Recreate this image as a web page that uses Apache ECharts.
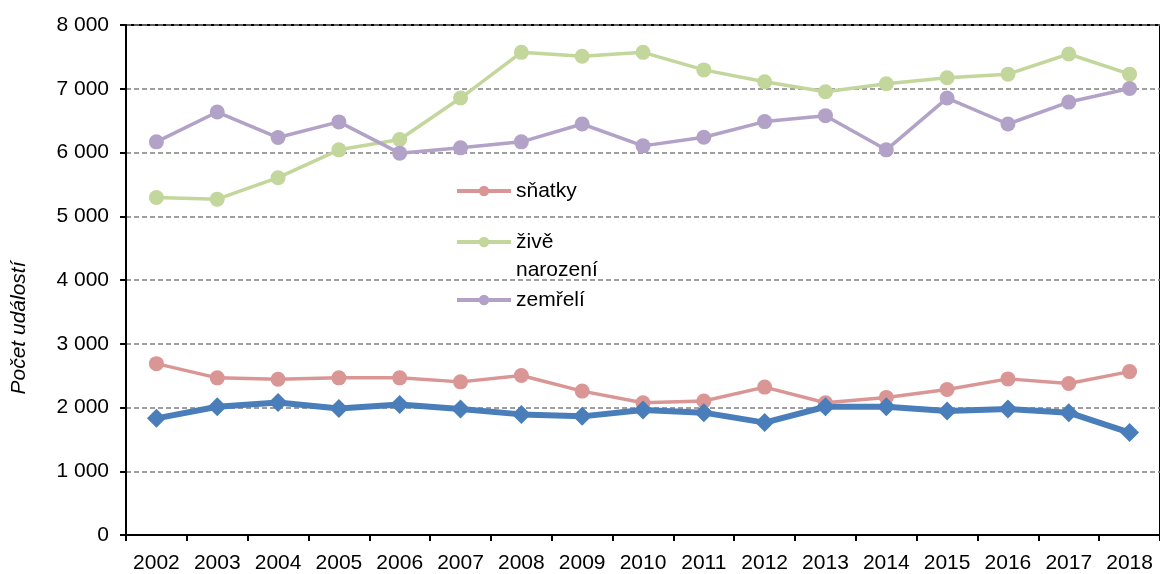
<!DOCTYPE html>
<html>
<head>
<meta charset="utf-8">
<script src="https://cdn.jsdelivr.net/npm/echarts@6/dist/echarts.min.js"></script>
<style>
  html, body { margin: 0; padding: 0; background: #fff; }
  #chart { width: 1160px; height: 574px; }
</style>
</head>
<body>
<div id="chart"></div>
<script>
// values
const years = ['2002', '2003', '2004', '2005', '2006', '2007', '2008', '2009', '2010',
    '2011', '2012', '2013', '2014', '2015', '2016', '2017', '2018'];
const snatky = [2688, 2465, 2444, 2465, 2465, 2402, 2501, 2257, 2075,
    2101, 2320, 2075, 2158, 2283, 2449, 2376, 2563];
const zive = [5293, 5268, 5605, 6042, 6204, 6854, 7571, 7509, 7571,
    7296, 7109, 6953, 7078, 7172, 7229, 7545, 7229];
const zemreli = [6167, 6635, 6235, 6480, 5990, 6073, 6167, 6447, 6104,
    6240, 6485, 6578, 6042, 6854, 6447, 6791, 7005];
const rozvody = [1830, 2012, 2080, 1986, 2048, 1976, 1892, 1861, 1961,
    1919, 1763, 2012, 2012, 1945, 1976, 1919, 1607];

const FONT = 'Liberation Sans, Arial, sans-serif';
const chart = echarts.init(document.getElementById('chart'));

// thousands with a space, Czech style: "8 000"
const fmtThousands = (v) => String(v).replace(/\B(?=(\d{3})+(?!\d))/g, ' ');

// one legend per entry so each can sit where the original put it
function legendAt(name, top, extra) {
    return Object.assign({
        data: [name],
        left: 455,
        top: top,
        orient: 'vertical',
        itemWidth: 54,
        itemHeight: 13,
        itemGap: 0,
        padding: 0,
        selectedMode: false,
        lineStyle: { width: 4 },
        textStyle: { fontFamily: FONT, fontSize: 21, color: '#000', lineHeight: 28 },
    }, extra || {});
}

const lineSeries = (name, data, color) => ({
    name: name,
    type: 'line',
    data: data,
    symbol: 'circle',
    symbolSize: 15,
    lineStyle: { color: color, width: 3.5 },
    itemStyle: { color: color },
    animation: false,
});

chart.setOption({
    backgroundColor: '#fff',
    animation: false,
    grid: {
        left: 126,
        top: 25,
        bottom: 36,
        width: 1037,
        show: true,
        borderColor: '#000',
        borderWidth: 2,
        containLabel: false,
    },
    legend: [
        legendAt('sňatky', 177),
        // blank first line keeps "živě" level with the icon, "narození" below it
        legendAt('živě narození', 200, { formatter: () => ' \nživě\nnarození' }),
        legendAt('zemřelí', 286),
    ],
    graphic: [
        {
            type: 'text',
            x: 19,
            y: 328,
            rotation: Math.PI / 2,
            style: {
                text: 'Počet událostí',
                fontFamily: FONT,
                fontSize: 21,
                fontStyle: 'italic',
                fill: '#000',
                align: 'center',
                verticalAlign: 'middle',
            },
        },
    ],
    xAxis: {
        type: 'category',
        data: years,
        boundaryGap: true,
        axisLine: { lineStyle: { color: '#000', width: 2 } },
        axisTick: { show: true, length: 6, lineStyle: { color: '#000', width: 2 } },
        axisLabel: { color: '#000', fontFamily: FONT, fontSize: 21, margin: 18, interval: 0 },
        splitLine: { show: false },
    },
    yAxis: {
        type: 'value',
        min: 0,
        max: 8000,
        interval: 1000,
        axisLine: { show: true, lineStyle: { color: '#000', width: 2 } },
        axisTick: { show: true, length: 6, lineStyle: { color: '#000', width: 2 } },
        axisLabel: { color: '#000', fontFamily: FONT, fontSize: 21, margin: 17, formatter: fmtThousands },
        splitLine: { lineStyle: { color: '#808080', width: 1.5, type: [5, 3] } },
    },
    series: [
        lineSeries('sňatky', snatky, '#D99694'),
        lineSeries('živě narození', zive, '#C3D69B'),
        lineSeries('zemřelí', zemreli, '#B3A2C7'),
        {
            name: 'rozvody',
            type: 'line',
            data: rozvody,
            symbol: 'diamond',
            symbolSize: 19,
            lineStyle: { color: '#4A7EBB', width: 6 },
            itemStyle: { color: '#4A7EBB' },
            animation: false,
        },
    ],
});
</script>
</body>
</html>
